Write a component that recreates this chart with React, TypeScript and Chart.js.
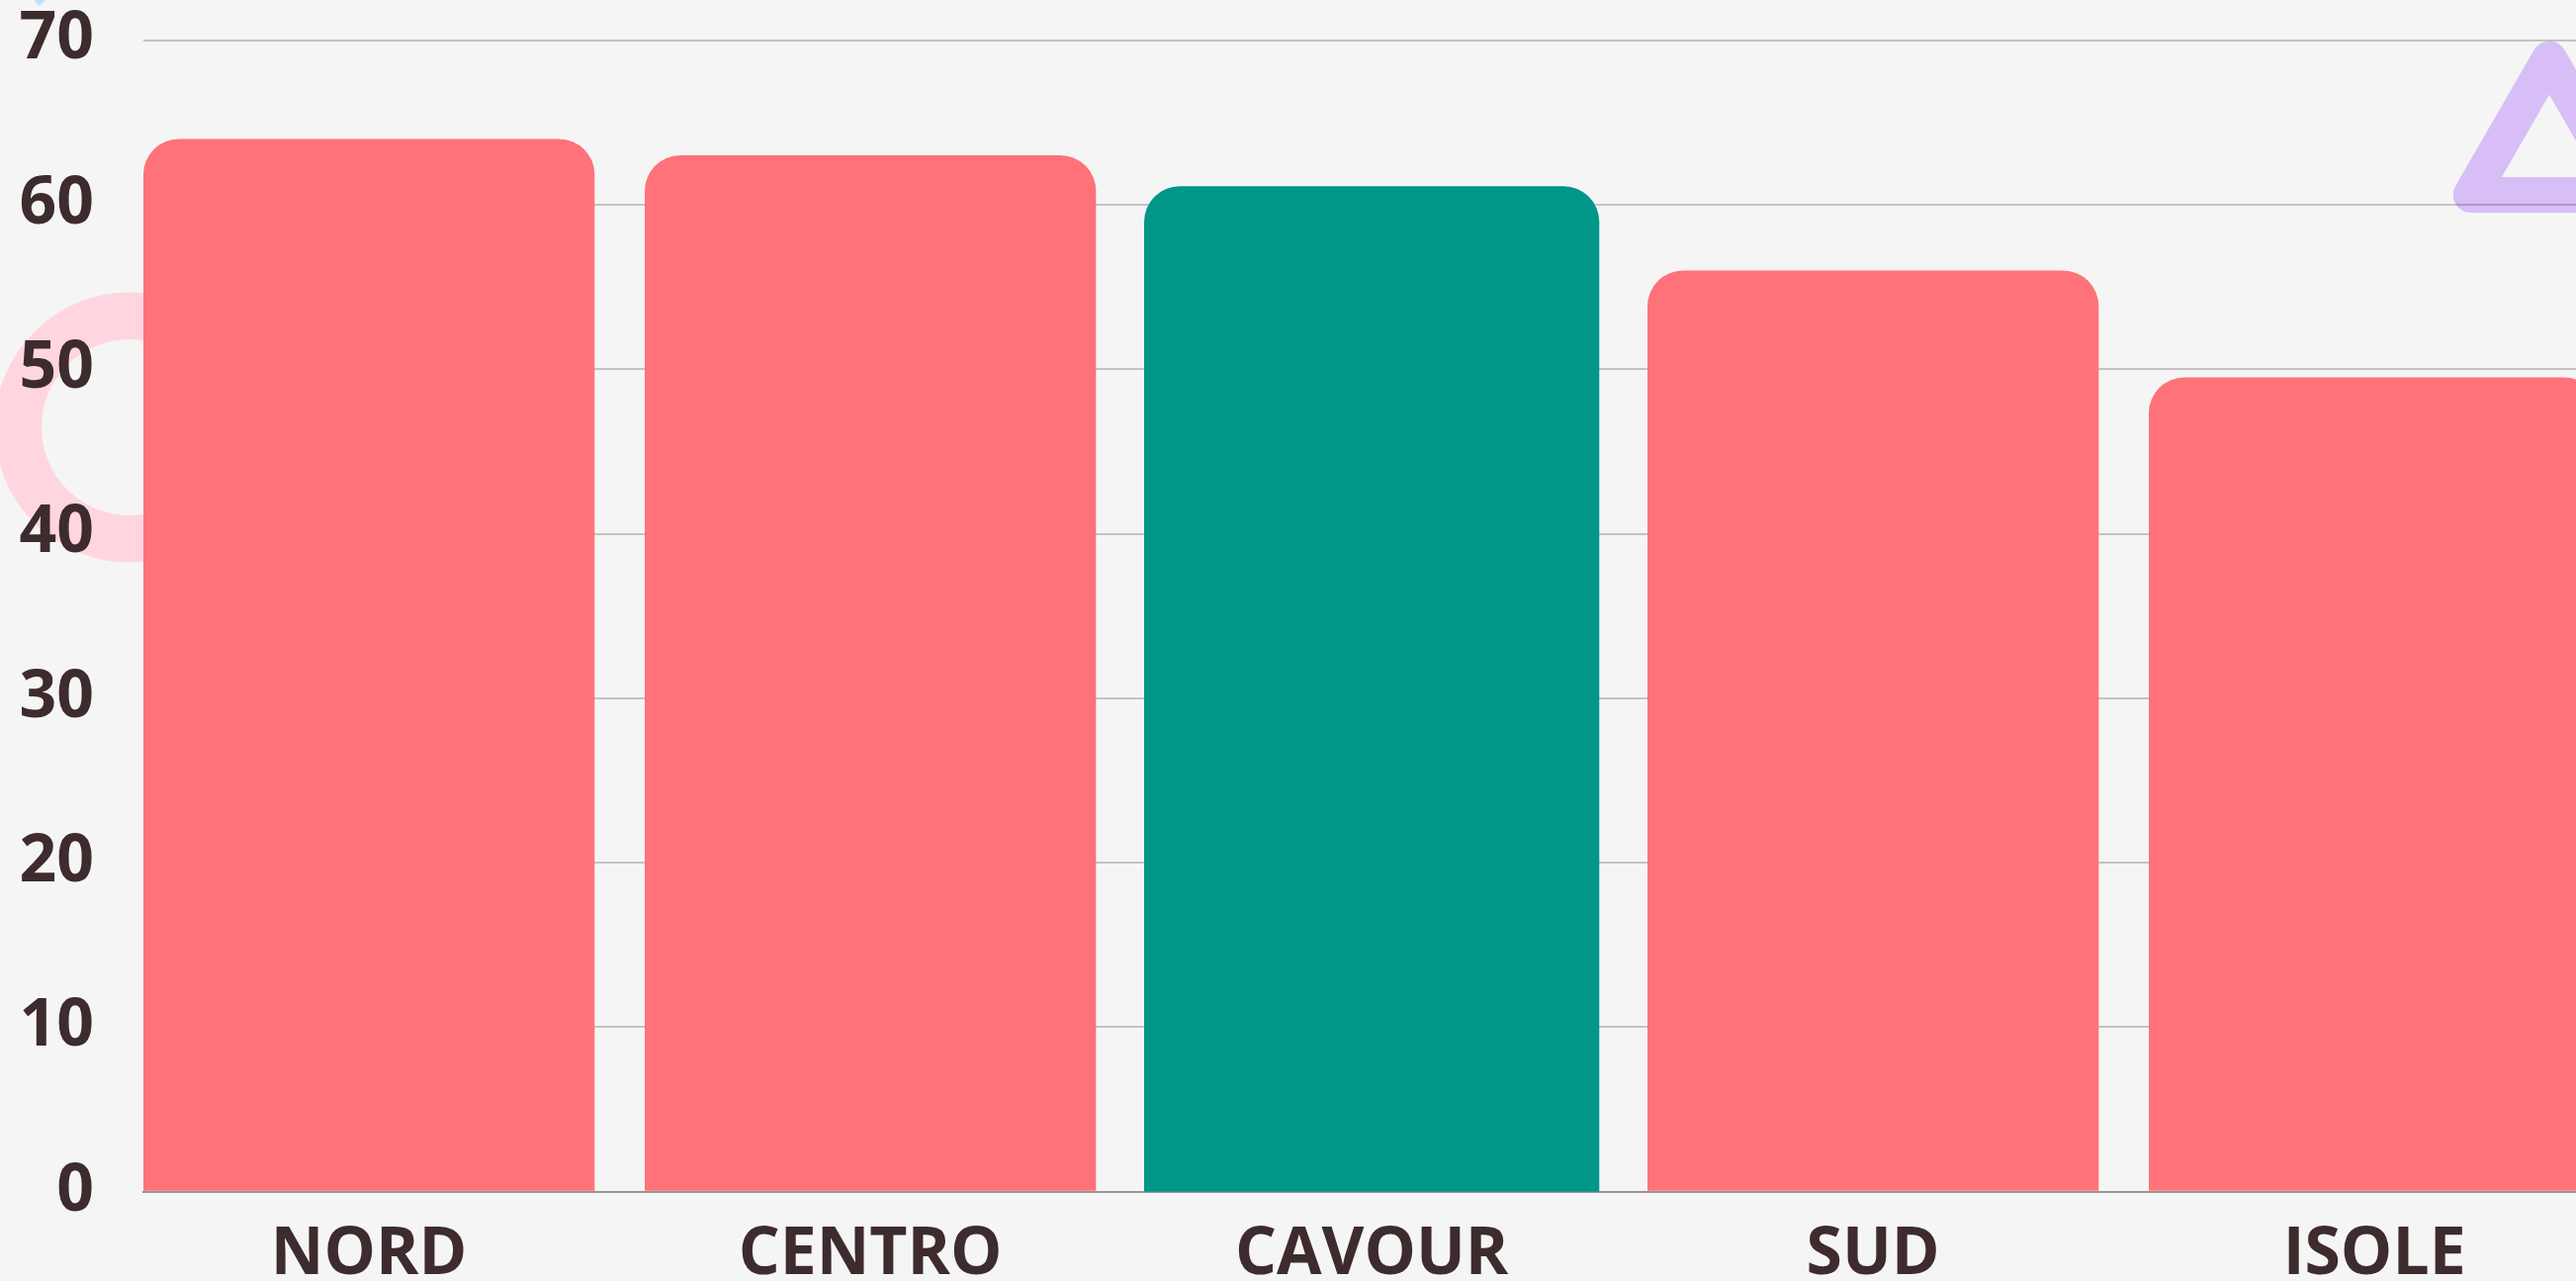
import { useEffect, useRef } from "react";
import { Chart, registerables } from "chart.js";

Chart.register(...registerables);

// Regional values
const categories = ["NORD", "CENTRO", "CAVOUR", "SUD", "ISOLE"];
const values = [64, 63, 61, 56, 49.5];
const highlighted = "CAVOUR";

// Value axis
const yMin = 0;
const yMax = 70;
const yStep = 10;

const BAR_COLOR = "#FF7279";
const HIGHLIGHT_COLOR = "#009688";
const INK = "#3D2B2D";
const FONT_FAMILY = "'Open Sans', 'Noto Sans', sans-serif";

const CANVAS_W = 2700;
const CANVAS_H = 1383;
const CANVAS_TOP = -49;

// Soft background shapes painted before the scales and bars
const decorations = {
  id: "decorations",
  beforeDraw(chart: any) {
    const ctx: CanvasRenderingContext2D = chart.ctx;
    const dy = -CANVAS_TOP;
    ctx.save();

    // pink ring on the left
    ctx.strokeStyle = "#FFD6E0";
    ctx.lineWidth = 47.5;
    ctx.beginPath();
    ctx.arc(131, 432 + dy, 112.75, 0, Math.PI * 2);
    ctx.stroke();

    // lilac triangle outline at the top right
    ctx.strokeStyle = "#D7BEF7";
    ctx.lineWidth = 36;
    ctx.lineJoin = "round";
    ctx.beginPath();
    ctx.moveTo(2578, 59.7 + dy);
    ctx.lineTo(2657.3, 197 + dy);
    ctx.lineTo(2498.7, 197 + dy);
    ctx.closePath();
    ctx.stroke();

    // light blue diamond peeking from the top edge
    ctx.fillStyle = "#BEE3F8";
    ctx.beginPath();
    ctx.moveTo(40, 6 + dy);
    ctx.lineTo(80, -34 + dy);
    ctx.lineTo(40, -74 + dy);
    ctx.lineTo(0, -34 + dy);
    ctx.closePath();
    ctx.fill();

    ctx.restore();
  },
};

export default function App() {
  const canvasRef = useRef<HTMLCanvasElement | null>(null);

  useEffect(() => {
    const canvas = canvasRef.current;
    if (!canvas) return;

    const tickFont = { family: FONT_FAMILY, size: 66, weight: "bold" as const };

    const chart = new Chart(canvas, {
      type: "bar",
      data: {
        datasets: [
          {
            data: values.map((v, i) => ({ x: i, y: v })),
            backgroundColor: categories.map((c) =>
              c === highlighted ? HIGHLIGHT_COLOR : BAR_COLOR
            ),
            inflateAmount: categories.map((c) => (c === highlighted ? 2 : 0)),
            borderRadius: 36,
            borderWidth: 0,
            barPercentage: 0.9,
            categoryPercentage: 1,
          } as any,
        ],
      },
      options: {
        responsive: false,
        animation: false,
        events: [],
        layout: { padding: { right: 20, left: 0, top: 0, bottom: 0 } },
        plugins: {
          legend: { display: false },
          tooltip: { enabled: false },
        },
        scales: {
          x: {
            type: "linear",
            min: -0.45,
            max: categories.length - 0.45,
            offset: false,
            afterBuildTicks: (scale: any) => {
              scale.ticks = categories.map((_, i) => ({ value: i }));
            },
            grid: { display: false, drawTicks: false },
            border: { display: true, color: "#9E9494", width: 2 },
            ticks: {
              autoSkip: false,
              maxRotation: 0,
              padding: 25,
              color: INK,
              font: tickFont,
              callback: (v: any) => categories[Number(v)] ?? "",
            },
          },
          y: {
            min: yMin,
            max: yMax,
            afterFit: (scale: any) => {
              scale.width = 145;
            },
            grid: {
              color: "rgba(61,43,45,0.25)",
              lineWidth: 2,
              drawTicks: false,
            },
            border: { display: false },
            ticks: {
              stepSize: yStep,
              padding: 50,
              color: INK,
              font: tickFont,
            },
          },
        },
      },
      plugins: [decorations],
    });

    return () => chart.destroy();
  }, []);

  return (
    <div
      style={{
        position: "fixed",
        inset: 0,
        overflow: "hidden",
        background: "#F5F5F5",
      }}
    >
      <canvas
        ref={canvasRef}
        width={CANVAS_W}
        height={CANVAS_H}
        style={{
          position: "absolute",
          left: 0,
          top: CANVAS_TOP,
          width: CANVAS_W,
          height: CANVAS_H,
        }}
      />
    </div>
  );
}
